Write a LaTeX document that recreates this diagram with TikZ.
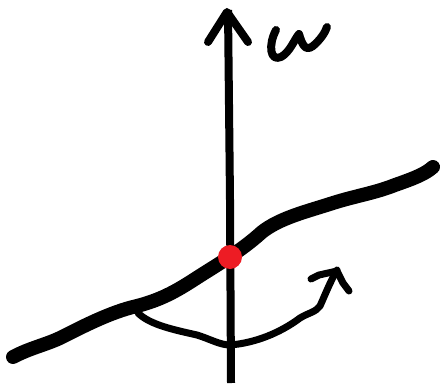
\documentclass[tikz,border=0pt]{standalone}
\usetikzlibrary{calc}
\definecolor{dotred}{RGB}{237,28,36}
\tikzset{
  ink/.style={line cap=round,line join=round,black},
  thickink/.style={ink,line width=14pt},
  medink/.style={ink,line width=8pt},
  thinink/.style={ink,line width=7pt}
}
\begin{document}
\begin{tikzpicture}[x=1pt,y=-1pt]
\useasboundingbox (0,0) rectangle (443,387);
% vertical axis
\coordinate (axbot) at (231,383);
\coordinate (axtop) at (228,10);
\draw[medink,line cap=butt] (axbot) -- (230,200) -- (axtop);
\draw[medink] (208,42) -- (227,12) -- (248,42);
% omega
\draw[medink] (276,30) .. controls (268,45) and (270,62) .. (281,57)
  .. controls (290,52) and (294,40) .. (299,34)
  .. controls (302,44) and (305,52) .. (313,46)
  .. controls (320,40) and (325,33) .. (327,27);
% thick line
\draw[thickink] (13,357) .. controls (30,348) and (45,345) .. (60,338)
  .. controls (80,328) and (110,312) .. (137,306)
  .. controls (160,300) and (175,292) .. (195,279)
  .. controls (215,266) and (240,252) .. (262,232)
  .. controls (280,218) and (305,212) .. (333,203)
  .. controls (355,196) and (375,193) .. (395,185)
  .. controls (415,178) and (425,174) .. (433,167);
% red dot
\fill[dotred] (230,257) circle (12);
% curved arrow
\draw[thinink] (138,313) .. controls (150,325) and (175,330) .. (197,335)
  .. controls (210,339) and (220,345) .. (230,345)
  .. controls (255,343) and (280,333) .. (300,318)
  .. controls (308,313) and (316,312) .. (320,306)
  .. controls (325,295) and (330,282) .. (337,270);
\draw[thinink] (311,279) -- (319,275) -- (337,271) -- (343,283) -- (349,291);
\end{tikzpicture}
\end{document}
